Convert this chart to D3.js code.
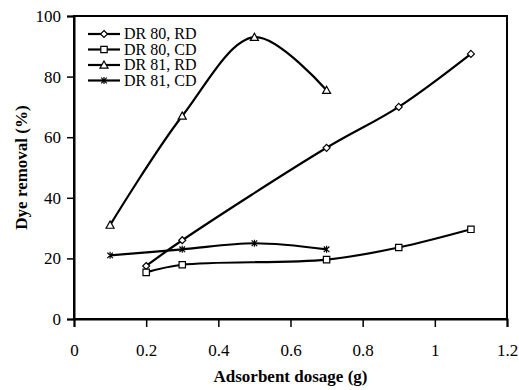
<!DOCTYPE html>
<html lang="en">
<head>
    <meta charset="UTF-8">
    <title>Dye removal vs adsorbent dosage</title>
    <script src="https://d3js.org/d3.v7.min.js"></script>
    <style>
        body { margin: 0; background: #fff; }
    </style>
</head>
<body>
    <svg id="chart" width="519" height="390"></svg>
    <script>
        // data
        const seriesNames = ["DR 80, RD", "DR 80, CD", "DR 81, RD", "DR 81, CD"];
        const dr80rdX = [0.2, 0.3, 0.7, 0.9, 1.1];
        const dr80rdY = [17.5, 26, 56.5, 70, 87.5];
        const dr80cdX = [0.2, 0.3, 0.7, 0.9, 1.1];
        const dr80cdY = [15.4, 17.9, 19.6, 23.6, 29.6];
        const dr81rdX = [0.1, 0.3, 0.5, 0.7];
        const dr81rdY = [31, 67, 93, 75.5];
        const dr81cdX = [0.1, 0.3, 0.5, 0.7];
        const dr81cdY = [21, 23, 25, 23];
        const xTicks = [0, 0.2, 0.4, 0.6, 0.8, 1, 1.2];
        const yTicks = [0, 20, 40, 60, 80, 100];

        const FONT = "Liberation Serif";

        const series = [
            {name: seriesNames[0], xs: dr80rdX, ys: dr80rdY, marker: "diamond"},
            {name: seriesNames[1], xs: dr80cdX, ys: dr80cdY, marker: "square"},
            {name: seriesNames[2], xs: dr81rdX, ys: dr81rdY, marker: "triangle"},
            {name: seriesNames[3], xs: dr81cdX, ys: dr81cdY, marker: "star"}
        ];

        const svg = d3.select("#chart");
        const margin = {top: 16, right: 12, bottom: 71, left: 74};
        const width = 519 - margin.left - margin.right;
        const height = 390 - margin.top - margin.bottom;

        const x = d3.scaleLinear().domain([0, 1.2]).range([0, width]);
        const y = d3.scaleLinear().domain([0, 100]).range([height, 0]);

        const g = svg.append("g").attr("transform", `translate(${margin.left},${margin.top})`);

        // frame
        g.append("rect")
            .attr("width", width).attr("height", height)
            .attr("fill", "none").attr("stroke", "#000").attr("stroke-width", 2);

        const xAxis = g.append("g")
            .attr("transform", `translate(0,${height})`)
            .call(d3.axisBottom(x).tickValues(xTicks).tickSize(8).tickPadding(17)
                .tickFormat(d => d3.format("")(+d.toFixed(1))));
        const yAxis = g.append("g")
            .call(d3.axisLeft(y).tickValues(yTicks).tickSize(7).tickPadding(6));

        [xAxis, yAxis].forEach(a => {
            a.attr("font-family", FONT).attr("font-size", 17);
            a.select(".domain").attr("stroke-width", 2);
            a.selectAll(".tick line").attr("stroke-width", 1.5);
            a.selectAll("text").attr("fill", "#000");
        });

        const line = d3.line()
            .x(d => x(d[0]))
            .y(d => y(d[1]))
            .curve(d3.curveCatmullRom.alpha(0.5));

        const markerPath = {
            diamond: "M0,-3.5L3.5,0L0,3.5L-3.5,0Z",
            square: "M-3.2,-3.2H3.2V3.2H-3.2Z",
            triangle: "M0,-4L4,3.2H-4Z",
            star: "M-2.8,-2.8L2.8,2.8M-2.8,2.8L2.8,-2.8M0,-3.5V3.5"
        };

        series.forEach(s => {
            const pts = s.xs.map((v, i) => [v, s.ys[i]]);
            g.append("path")
                .attr("d", line(pts))
                .attr("fill", "none")
                .attr("stroke", "#000")
                .attr("stroke-width", 2.2);
            g.selectAll(null)
                .data(pts)
                .enter()
                .append("path")
                .attr("transform", d => `translate(${x(d[0])},${y(d[1])})`)
                .attr("d", markerPath[s.marker])
                .attr("fill", s.marker === "star" ? "none" : "#fff")
                .attr("stroke", "#000")
                .attr("stroke-width", 1.2);
        });

        // legend
        const legend = g.append("g").attr("transform", "translate(14,18)");
        series.forEach((s, i) => {
            const row = legend.append("g").attr("transform", `translate(0,${i * 15.5})`);
            row.append("line").attr("x1", 0).attr("x2", 32)
                .attr("stroke", "#000").attr("stroke-width", 2.2);
            row.append("path")
                .attr("transform", "translate(16,0)")
                .attr("d", markerPath[s.marker])
                .attr("fill", s.marker === "star" ? "none" : "#fff")
                .attr("stroke", "#000").attr("stroke-width", 1.2);
            row.append("text")
                .attr("x", 36).attr("y", 5)
                .attr("font-family", FONT)
                .attr("font-size", 16)
                .text(s.name);
        });

        // axis titles
        svg.append("text")
            .attr("x", margin.left + width / 2)
            .attr("y", 382)
            .attr("text-anchor", "middle")
            .attr("font-family", FONT)
            .attr("font-size", 17)
            .attr("font-weight", "bold")
            .text("Adsorbent dosage (g)");

        svg.append("text")
            .attr("transform", `translate(27,${margin.top + height / 2}) rotate(-90)`)
            .attr("text-anchor", "middle")
            .attr("font-family", FONT)
            .attr("font-size", 17)
            .attr("font-weight", "bold")
            .text("Dye removal (%)");
    </script>
</body>
</html>
